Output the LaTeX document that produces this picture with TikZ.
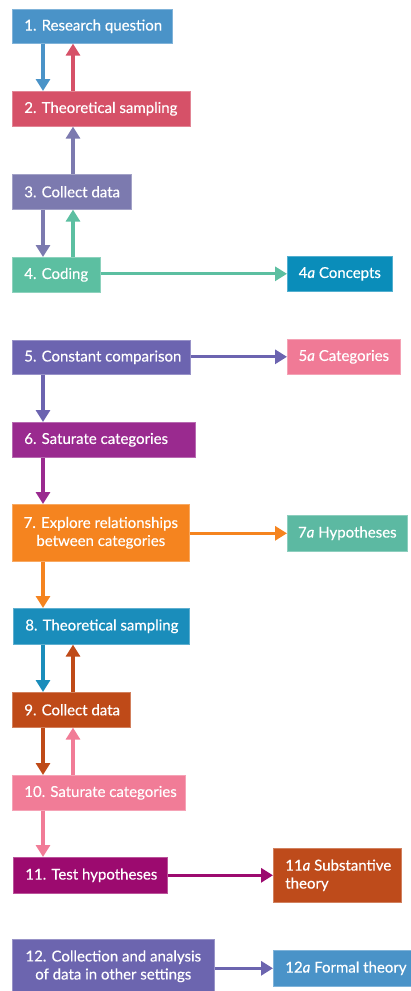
\documentclass[tikz,border=0pt]{standalone}
\usepackage{fontspec}
\setmainfont{Lato}[FakeBold=0.35]
\usetikzlibrary{arrows.meta}

\definecolor{cA}{HTML}{4A93C8}
\definecolor{cB}{HTML}{D65168}
\definecolor{cC}{HTML}{7C7AAF}
\definecolor{cD}{HTML}{5CBFA1}
\definecolor{cDa}{HTML}{0A8DBA}
\definecolor{cE}{HTML}{6C64B0}
\definecolor{cEa}{HTML}{F07A96}
\definecolor{cF}{HTML}{9A2A8F}
\definecolor{cG}{HTML}{F5841F}
\definecolor{cGa}{HTML}{5CB9A2}
\definecolor{cH}{HTML}{1A8DBB}
\definecolor{cI}{HTML}{BF4A18}
\definecolor{cJ}{HTML}{F17C97}
\definecolor{cK}{HTML}{9C0A6F}
\definecolor{cKa}{HTML}{BE4B1B}
\definecolor{cL}{HTML}{6C65AF}
\definecolor{cLa}{HTML}{4A93C8}

\tikzset{
  stagebox/.style n args={3}{draw=#1!70!white, line width=0.6pt, fill=#1,
    text=white, anchor=north west, inner xsep=0pt, inner ysep=0pt,
    minimum width=#2, minimum height=#3, font=\fontsize{15}{18}\selectfont},
  flow/.style={line width=3.2pt, draw=#1, -{Triangle[width=14pt,length=12pt]}},
}

\begin{document}
\begin{tikzpicture}[x=1pt, y=-1pt]
\useasboundingbox (0,0) rectangle (411,991);

% lanes for the vertical connectors
\coordinate (L) at (43,0);
\coordinate (R) at (73,0);

% main column
\node[stagebox={cA}{160pt}{34pt}] (s1) at (12,9)
  {\makebox[136pt][l]{1. Research question}};
\node[stagebox={cB}{178pt}{35pt}] (s2) at (12,91)
  {\makebox[154pt][l]{2. Theoretical sampling}};
\node[stagebox={cC}{119pt}{35pt}] (s3) at (12,174)
  {\makebox[95pt][l]{3. Collect data}};
\node[stagebox={cD}{88pt}{35pt}] (s4) at (12,257)
  {\makebox[64pt][l]{4. Coding}};
\node[stagebox={cE}{178pt}{34pt}] (s5) at (12,340)
  {\makebox[154pt][l]{5. Constant comparison}};
\node[stagebox={cF}{183pt}{35pt}] (s6) at (12,422)
  {\makebox[159pt][l]{6. Saturate categories}};
\node[stagebox={cG}{177pt}{57pt}, align=center] (s7) at (12,504)
  {7. Explore relationships\\between categories};
\node[stagebox={cH}{176pt}{36pt}] (s8) at (13,608)
  {\makebox[152pt][l]{8. Theoretical sampling}};
\node[stagebox={cI}{118pt}{35pt}] (s9) at (12,692)
  {\makebox[94pt][l]{9. Collect data}};
\node[stagebox={cJ}{173pt}{35pt}] (s10) at (12,775)
  {\makebox[149pt][l]{10. Saturate categories}};
\node[stagebox={cK}{154pt}{36pt}] (s11) at (13,857)
  {\makebox[130pt][l]{11. Test hypotheses}};
\node[stagebox={cL}{202pt}{54pt}, align=center] (s12) at (12,939)
  {12. Collection and analysis\\of data in other settings};

% outcomes
\node[stagebox={cDa}{105pt}{35pt}] (o4) at (287,256)
  {4\textit{a} Concepts};
\node[stagebox={cEa}{113pt}{35pt}] (o5) at (287,339)
  {5\textit{a} Categories};
\node[stagebox={cGa}{120pt}{36pt}] (o7) at (287,515)
  {7\textit{a} Hypotheses};
\node[stagebox={cKa}{128pt}{54pt}, align=left] (o11) at (273,848)
  {\makebox[104pt][l]{11\textit{a} Substantive}\\theory};
\node[stagebox={cLa}{140pt}{36pt}] (o12) at (273,950)
  {\makebox[116pt][l]{12\textit{a} Formal theory}};

% vertical connectors
\draw[flow=cA] (s1.south -| L) -- (s2.north -| L);
\draw[flow=cB] (s2.north -| R) -- (s1.south -| R);
\draw[flow=cC] (s3.north -| R) -- (s2.south -| R);
\draw[flow=cC] (s3.south -| L) -- (s4.north -| L);
\draw[flow=cD] (s4.north -| R) -- (s3.south -| R);
\draw[flow=cE] (s5.south -| L) -- (s6.north -| L);
\draw[flow=cF] (s6.south -| L) -- (s7.north -| L);
\draw[flow=cG] (s7.south -| L) -- (s8.north -| L);
\draw[flow=cH] (s8.south -| L) -- (s9.north -| L);
\draw[flow=cI] (s9.north -| R) -- (s8.south -| R);
\draw[flow=cI] (s9.south -| L) -- (s10.north -| L);
\draw[flow=cJ] (s10.north -| R) -- (s9.south -| R);
\draw[flow=cJ] (s10.south -| L) -- (s11.north -| L);

% horizontal connectors to outcomes
\draw[flow=cD] (s4.east |- o4.west) -- (o4.west);
\draw[flow=cE] (s5.east |- o5.west) -- (o5.west);
\draw[flow=cG] (s7.east |- o7.west) -- (o7.west);
\draw[flow=cK] (s11.east |- o11.west) -- (o11.west);
\draw[flow=cL] (s12.east |- o12.west) -- (o12.west);
\end{tikzpicture}
\end{document}
